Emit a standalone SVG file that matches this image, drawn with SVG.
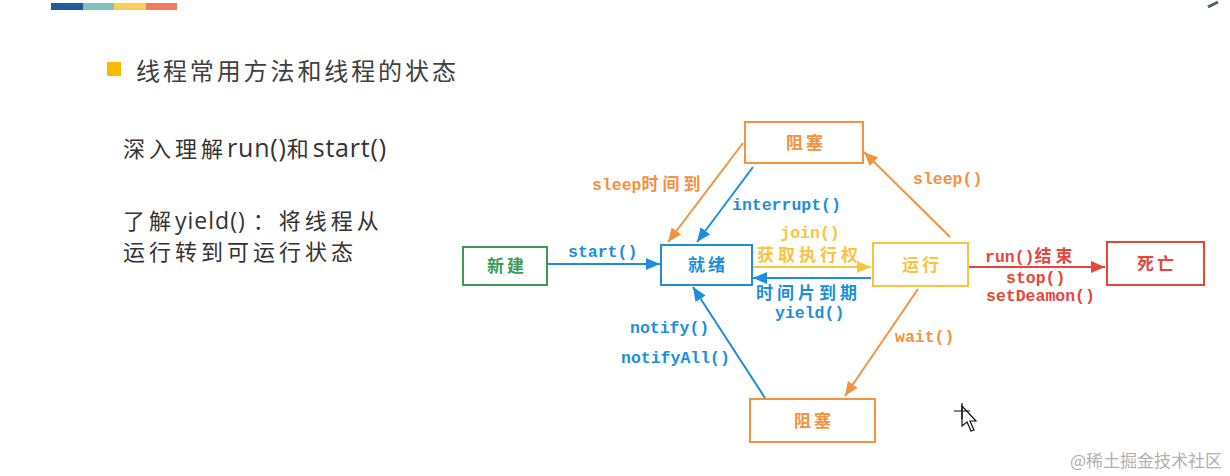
<svg xmlns="http://www.w3.org/2000/svg" width="1230" height="476" viewBox="0 0 1230 476">
<style>
.bg{fill:#ffffff}
.node rect{fill:#ffffff;stroke-width:2}
.ntext{font-family:"Noto Sans CJK SC","Noto Sans",sans-serif;font-size:17px;font-weight:bold;letter-spacing:3px;text-anchor:middle}
.lbl{font-family:"Liberation Mono","DejaVu Sans Mono",monospace;font-size:16.5px;font-weight:bold}
.cjk{font-family:"Noto Sans CJK SC",sans-serif;font-size:17px;font-weight:bold;letter-spacing:4px}
.body{font-family:"Noto Sans CJK SC","Noto Sans",sans-serif;font-size:22px;fill:#333333;letter-spacing:4px}
.lat{font-family:"Open Sans","Noto Sans",sans-serif;font-size:25px;letter-spacing:0.8px}
.lat2{font-family:"Open Sans","Noto Sans",sans-serif;font-size:23px;letter-spacing:1px}
.conn line{stroke-width:2;fill:none}
.blue{fill:#1b8fdc}.orange{fill:#f59240}.yellow{fill:#fbc43c}.red{fill:#e8453c}.green{fill:#3a9b58}
</style>
<defs>
<marker id="ah-blue" markerUnits="userSpaceOnUse" markerWidth="16" markerHeight="14" refX="14" refY="6" orient="auto"><path d="M0,0 L14,6 L0,12 z" fill="#1b8fdc"/></marker>
<marker id="ah-orange" markerUnits="userSpaceOnUse" markerWidth="16" markerHeight="14" refX="14" refY="6" orient="auto"><path d="M0,0 L14,6 L0,12 z" fill="#f59240"/></marker>
<marker id="ah-yellow" markerUnits="userSpaceOnUse" markerWidth="16" markerHeight="14" refX="14" refY="6" orient="auto"><path d="M0,0 L14,6 L0,12 z" fill="#fbc43c"/></marker>
<marker id="ah-red" markerUnits="userSpaceOnUse" markerWidth="16" markerHeight="14" refX="14" refY="6" orient="auto"><path d="M0,0 L14,6 L0,12 z" fill="#e8453c"/></marker>
</defs>
<rect class="bg" x="0" y="0" width="1230" height="476"/>

<g id="header">
<rect x="51" y="3" width="32" height="7" fill="#1f5c9e"/>
<rect x="83" y="3" width="31" height="7" fill="#7dc3bf"/>
<rect x="114" y="3" width="32" height="7" fill="#fccf5a"/>
<rect x="146" y="3" width="31" height="7" fill="#f47a5e"/>
<path d="M1208,7 L1218,2" stroke="#555e66" stroke-width="3"/>
<rect x="107" y="62" width="14" height="14" fill="#fcb900"/>
<text x="136" y="80" font-family="'Noto Sans CJK SC',sans-serif" font-size="24" letter-spacing="2.9" fill="#404040">线程常用方法和线程的状态</text>
</g>

<g id="notes">
<text class="body" x="123" y="157">深入理解<tspan class="lat">run()</tspan>和<tspan class="lat">start()</tspan></text>
<text class="body" x="123" y="229">了解<tspan class="lat2">yield() </tspan>：将线程从</text>
<text class="body" x="123" y="260">运行转到可运行状态</text>
</g>

<g id="connectors" class="conn">
<line x1="547" y1="264" x2="660" y2="264" stroke="#1b8fdc" marker-end="url(#ah-blue)"/>
<line x1="743" y1="143" x2="668" y2="242" stroke="#f59240" marker-end="url(#ah-orange)"/>
<line x1="753" y1="167" x2="697" y2="242" stroke="#1b8fdc" marker-end="url(#ah-blue)"/>
<line x1="752" y1="267" x2="871" y2="267" stroke="#fbc43c" marker-end="url(#ah-yellow)"/>
<line x1="871" y1="278" x2="753" y2="278" stroke="#1b8fdc" marker-end="url(#ah-blue)"/>
<line x1="950" y1="237" x2="864" y2="152" stroke="#f59240" marker-end="url(#ah-orange)"/>
<line x1="968" y1="267" x2="1105" y2="267" stroke="#e8453c" marker-end="url(#ah-red)"/>
<line x1="918" y1="289" x2="845" y2="396" stroke="#f59240" marker-end="url(#ah-orange)"/>
<line x1="765" y1="398" x2="693" y2="287" stroke="#1b8fdc" marker-end="url(#ah-blue)"/>
</g>

<g id="labels">
<text class="lbl blue" x="568" y="257">start()</text>
<text class="lbl orange" x="592" y="190">sleep<tspan class="cjk">时间到</tspan></text>
<text class="lbl blue" x="732" y="210">interrupt()</text>
<text class="lbl yellow" x="810" y="238" text-anchor="middle">join()</text>
<text class="cjk yellow" x="757" y="261">获取执行权</text>
<text class="cjk blue" x="756" y="299">时间片到期</text>
<text class="lbl blue" x="775" y="318">yield()</text>
<text class="lbl orange" x="913" y="184">sleep()</text>
<text class="lbl red" x="985" y="262">run()<tspan class="cjk">结束</tspan></text>
<text class="lbl red" x="1006" y="283">stop()</text>
<text class="lbl red" x="986" y="301">setDeamon()</text>
<text class="lbl orange" x="895" y="342">wait()</text>
<text class="lbl blue" x="630" y="333">notify()</text>
<text class="lbl blue" x="621" y="363">notifyAll()</text>
</g>

<g id="node-new" class="node">
<rect x="463" y="247" width="84" height="38" stroke="#3a9b58"/>
<text class="ntext green" x="507" y="272">新建</text>
</g>
<g id="node-ready" class="node">
<rect x="661" y="245" width="91" height="40" stroke="#1b8fdc"/>
<text class="ntext blue" x="708" y="271">就绪</text>
</g>
<g id="node-blocked-top" class="node">
<rect x="745" y="122" width="118" height="41" stroke="#f59240"/>
<text class="ntext orange" x="806" y="149">阻塞</text>
</g>
<g id="node-running" class="node">
<rect x="873" y="243" width="95" height="43" stroke="#fbc43c"/>
<text class="ntext yellow" x="922" y="271">运行</text>
</g>
<g id="node-dead" class="node">
<rect x="1107" y="242" width="97" height="43" stroke="#e8453c"/>
<text class="ntext red" x="1157" y="270">死亡</text>
</g>
<g id="node-blocked-bottom" class="node">
<rect x="750" y="399" width="125" height="43" stroke="#f59240"/>
<text class="ntext orange" x="814" y="427">阻塞</text>
</g>

<g id="cursor">
<path d="M962,406 L962,426 L967,422 L971,431 L974,430 L970,421 L976,421 z" fill="#ffffff" stroke="#111111" stroke-width="1.2"/>
<path d="M954,411 L970,411 M962,403 L962,419" stroke="#111111" stroke-width="1.2"/>
</g>

<text x="1222" y="467" text-anchor="end" font-family="'Noto Sans CJK SC',sans-serif" font-size="17" fill="#b0b0b0">@稀土掘金技术社区</text>
</svg>
